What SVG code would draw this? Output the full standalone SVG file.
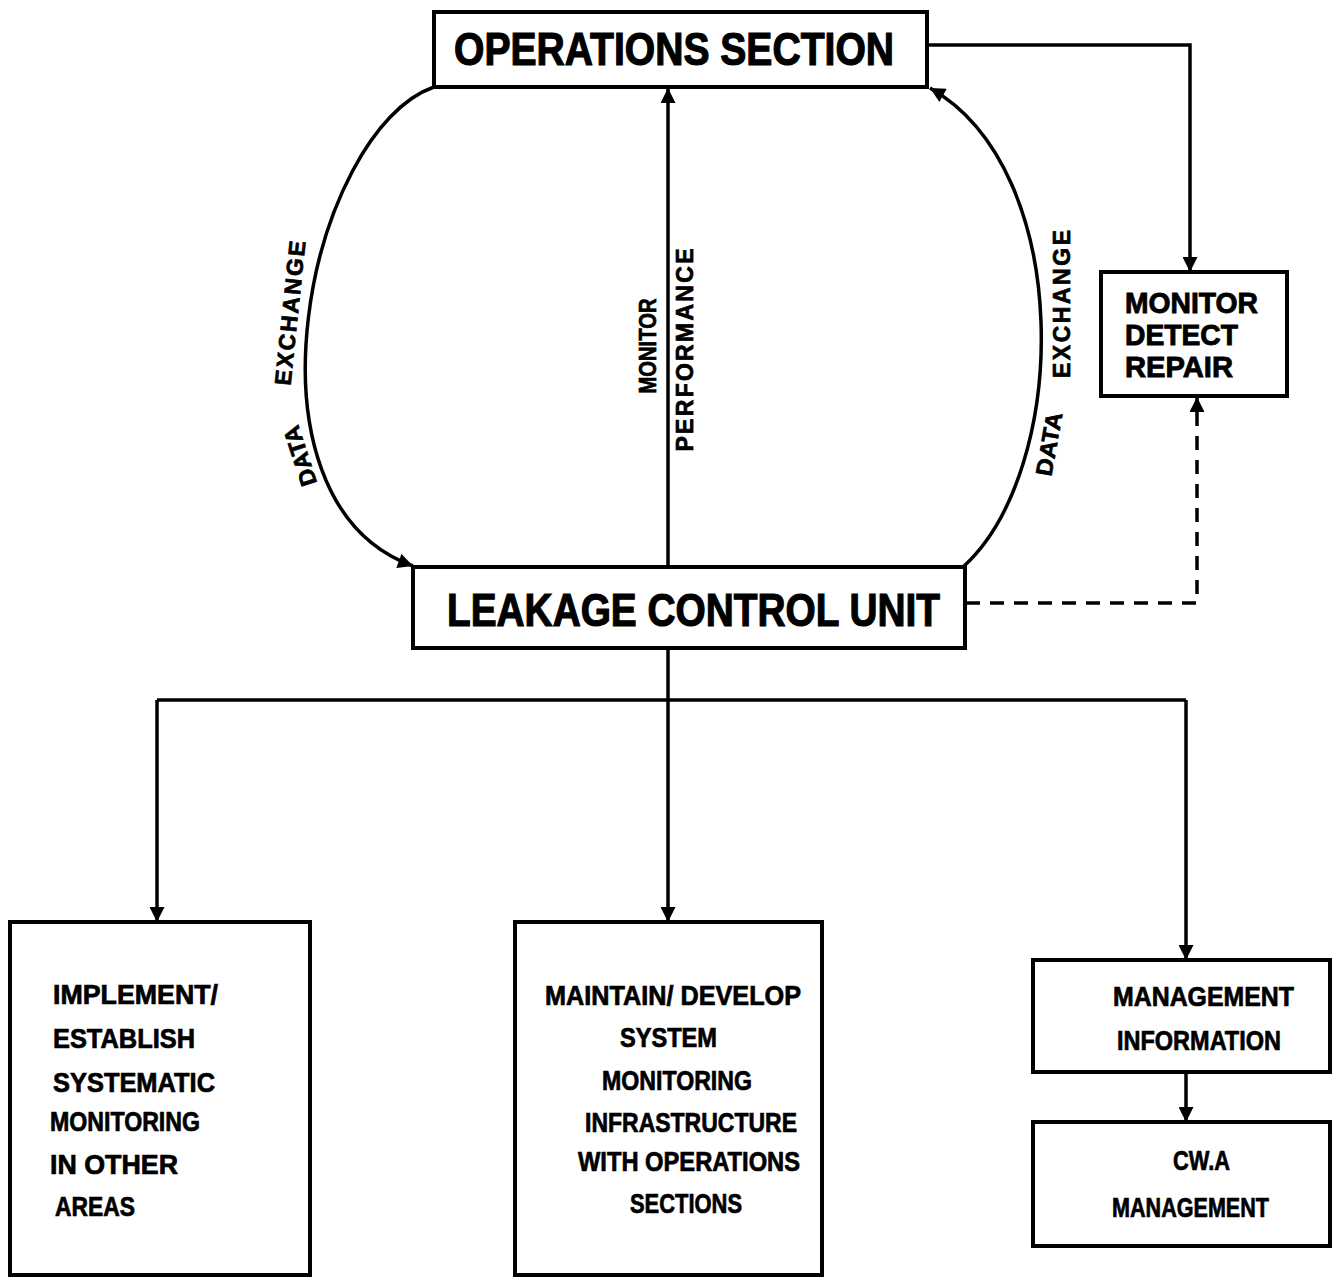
<svg xmlns="http://www.w3.org/2000/svg" width="1343" height="1279" viewBox="0 0 1343 1279">
<style>
.box{fill:#fff;stroke:#000;stroke-width:4}
.ln{fill:none;stroke:#000;stroke-width:3.5}
.dash{stroke-dasharray:14 10}
.t{font-family:"Liberation Sans",Arial,sans-serif;font-weight:bold;fill:#000;stroke:#000;stroke-width:0.7}
.big{font-size:46px;stroke-width:1.2}
.mid{font-size:30px;stroke-width:0.9}
.sm{font-size:27px}
.lab{font-size:23px}
</style>
<defs>
<marker id="ah" viewBox="0 0 10 10" refX="10" refY="5" markerUnits="userSpaceOnUse" markerWidth="18" markerHeight="15" orient="auto">
<path d="M0,0 L10,5 L0,10 z" fill="#000"/>
</marker>
</defs>
<rect width="1343" height="1279" fill="#fff"/>
<g id="connectors">
<path class="ln" d="M668,567 L668,88" marker-end="url(#ah)"/>
<path class="ln" d="M434,87 C310,130 230,500 413,566" marker-end="url(#ah)"/>
<path class="ln" d="M963,567 C1070,470 1075,170 930,88" marker-end="url(#ah)"/>
<path class="ln" d="M927,45 L1190,45 L1190,272" marker-end="url(#ah)"/>
<path class="ln dash" d="M966,603 L1197,603 L1197,397" marker-end="url(#ah)"/>
<path class="ln" d="M668,648 L668,922" marker-end="url(#ah)"/>
<path class="ln" d="M157,700 L1186,700"/>
<path class="ln" d="M157,700 L157,922" marker-end="url(#ah)"/>
<path class="ln" d="M1186,700 L1186,960" marker-end="url(#ah)"/>
<path class="ln" d="M1186,1072 L1186,1122" marker-end="url(#ah)"/>
<text class="t lab" transform="translate(300,456) rotate(-108)" text-anchor="middle" dominant-baseline="central" textLength="62" lengthAdjust="spacingAndGlyphs">DATA</text>
<text class="t lab" transform="translate(290,313) rotate(-84)" text-anchor="middle" dominant-baseline="central" textLength="145" lengthAdjust="spacing">EXCHANGE</text>
<text class="t lab" transform="translate(648,346) rotate(-90)" text-anchor="middle" dominant-baseline="central" textLength="95" lengthAdjust="spacingAndGlyphs">MONITOR</text>
<text class="t lab" transform="translate(685,350) rotate(-90)" text-anchor="middle" dominant-baseline="central" textLength="203" lengthAdjust="spacing">PERFORMANCE</text>
<text class="t lab" transform="translate(1049,444) rotate(-80)" text-anchor="middle" dominant-baseline="central" textLength="64" lengthAdjust="spacingAndGlyphs">DATA</text>
<text class="t lab" transform="translate(1062,304) rotate(-90)" text-anchor="middle" dominant-baseline="central" textLength="148" lengthAdjust="spacing">EXCHANGE</text>
</g>
<g id="operations">
<rect class="box" x="434" y="12" width="493" height="75"/>
<text class="t big" x="454" y="65" textLength="440" lengthAdjust="spacingAndGlyphs">OPERATIONS  SECTION</text>
</g>
<g id="leakage">
<rect class="box" x="413" y="567" width="552" height="81"/>
<text class="t big" x="447" y="626" font-size="42" textLength="493" lengthAdjust="spacingAndGlyphs">LEAKAGE  CONTROL UNIT</text>
</g>
<g id="mdr">
<rect class="box" x="1101" y="272" width="186" height="124"/>
<text class="t mid" x="1125" y="313" textLength="133" lengthAdjust="spacingAndGlyphs">MONITOR</text>
<text class="t mid" x="1125" y="345" textLength="113" lengthAdjust="spacingAndGlyphs">DETECT</text>
<text class="t mid" x="1125" y="377" textLength="108" lengthAdjust="spacingAndGlyphs">REPAIR</text>
</g>
<g id="implement">
<rect class="box" x="10" y="922" width="300" height="353"/>
<text class="t sm" x="53" y="1004" textLength="165" lengthAdjust="spacingAndGlyphs">IMPLEMENT/</text>
<text class="t sm" x="53" y="1048" textLength="142" lengthAdjust="spacingAndGlyphs">ESTABLISH</text>
<text class="t sm" x="53" y="1092" textLength="162" lengthAdjust="spacingAndGlyphs">SYSTEMATIC</text>
<text class="t sm" x="50" y="1131" textLength="150" lengthAdjust="spacingAndGlyphs">MONITORING</text>
<text class="t sm" x="50" y="1174" textLength="128" lengthAdjust="spacingAndGlyphs">IN  OTHER</text>
<text class="t sm" x="55" y="1216" textLength="80" lengthAdjust="spacingAndGlyphs">AREAS</text>
</g>
<g id="maintain">
<rect class="box" x="515" y="922" width="307" height="353"/>
<text class="t sm" x="545" y="1005" textLength="256" lengthAdjust="spacingAndGlyphs">MAINTAIN/ DEVELOP</text>
<text class="t sm" x="620" y="1047" textLength="97" lengthAdjust="spacingAndGlyphs">SYSTEM</text>
<text class="t sm" x="602" y="1090" textLength="150" lengthAdjust="spacingAndGlyphs">MONITORING</text>
<text class="t sm" x="585" y="1132" textLength="212" lengthAdjust="spacingAndGlyphs">INFRASTRUCTURE</text>
<text class="t sm" x="578" y="1171" textLength="222" lengthAdjust="spacingAndGlyphs">WITH OPERATIONS</text>
<text class="t sm" x="630" y="1213" textLength="112" lengthAdjust="spacingAndGlyphs">SECTIONS</text>
</g>
<g id="mgmtinfo">
<rect class="box" x="1033" y="960" width="297" height="112"/>
<text class="t sm" x="1113" y="1006" textLength="181" lengthAdjust="spacingAndGlyphs">MANAGEMENT</text>
<text class="t sm" x="1117" y="1050" textLength="164" lengthAdjust="spacingAndGlyphs">INFORMATION</text>
</g>
<g id="cwa">
<rect class="box" x="1033" y="1122" width="297" height="124"/>
<text class="t sm" x="1173" y="1170" textLength="57" lengthAdjust="spacingAndGlyphs">CW.A</text>
<text class="t sm" x="1112" y="1217" textLength="157" lengthAdjust="spacingAndGlyphs">MANAGEMENT</text>
</g>
</svg>
